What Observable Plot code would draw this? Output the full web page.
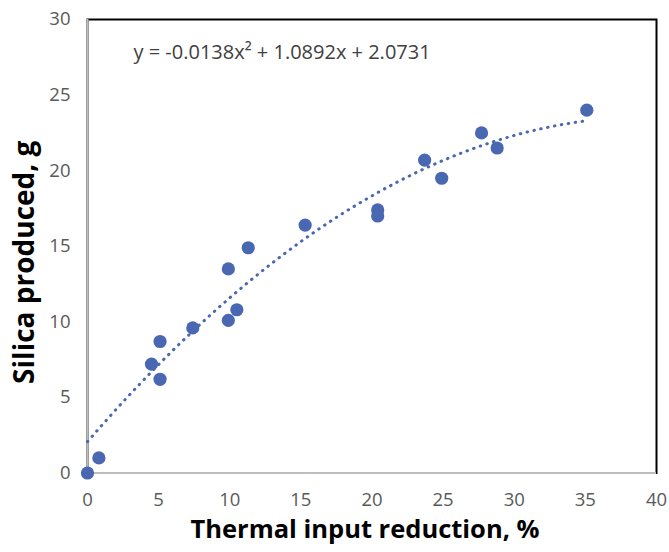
<!DOCTYPE html>
<html>
<head>
<meta charset="utf-8">
<script src="https://cdn.jsdelivr.net/npm/d3@7"></script>
<script src="https://cdn.jsdelivr.net/npm/@observablehq/plot@0.6"></script>
<style>
  html, body { margin: 0; padding: 0; background: #fff; }
  #chart svg { display: block; }
</style>
</head>
<body>
<div id="chart"></div>
<script>
// Data
const thermalReduction = [0, 0.8, 4.5, 5.1, 5.1, 7.4, 9.9, 9.9, 10.5, 11.3, 15.3, 20.4, 20.4, 23.7, 24.9, 27.7, 28.8, 35.1];
const silicaProduced   = [0, 1.0, 7.2, 8.7, 6.2, 9.6, 13.5, 10.1, 10.8, 14.9, 16.4, 17.4, 17.0, 20.7, 19.5, 22.5, 21.5, 24.0];

// Polynomial trendline coefficients shown on the chart (a x^2 + b x + c)
const trendCoeffs = [-0.0138, 1.0892, 2.0731];
const equationText = "y = -0.0138x² + 1.0892x + 2.0731";

const xTicks = [0, 5, 10, 15, 20, 25, 30, 35, 40];
const yTicks = [0, 5, 10, 15, 20, 25, 30];
const xTitle = "Thermal input reduction, %";
const yTitle = "Silica produced, g";

const points = thermalReduction.map((x, i) => ({x, y: silicaProduced[i]}));
const xMax = d3.max(thermalReduction);
const trend = d3.range(0, xMax + 1e-9, xMax / 120).map(x => ({
  x, y: trendCoeffs[0] * x * x + trendCoeffs[1] * x + trendCoeffs[2]
}));

const blue = "#4a67b1";

const chart = Plot.plot({
  width: 669,
  height: 552,
  marginLeft: 87,
  marginRight: 13,
  marginTop: 19,
  marginBottom: 79.5,
  style: {fontFamily: "'Open Sans', sans-serif", background: "#fff"},
  x: {domain: [0, 40]},
  y: {domain: [0, 30]},
  marks: [
    Plot.frame({stroke: "#000", strokeWidth: 2}),
    Plot.ruleX([0], {stroke: "#bdbdbd", strokeWidth: 2}),
    Plot.ruleY([0], {stroke: "#bdbdbd", strokeWidth: 2}),
    Plot.axisX({ticks: xTicks, tickSize: 0, tickPadding: 20, label: null, fontSize: 18.5, fill: "#595959"}),
    Plot.axisY({ticks: yTicks, tickSize: 0, tickPadding: 17, label: null, fontSize: 18.5, fill: "#595959"}),
    Plot.dot(points, {x: "x", y: "y", r: 6.6, fill: blue, stroke: "none"}),
    Plot.line(trend, {x: "x", y: "y", stroke: blue, strokeWidth: 3, strokeDasharray: "0.5 6.5", strokeLinecap: "round"}),
    Plot.text([equationText], {frameAnchor: "top-left", textAnchor: "start", lineAnchor: "bottom", dx: 46, dy: 39, fontSize: 20, fill: "#404040"}),
    Plot.text([xTitle], {frameAnchor: "bottom", textAnchor: "middle", lineAnchor: "bottom", dx: -7, dy: 64.5, fontSize: 25.5, fontWeight: "bold", fill: "#000"}),
    Plot.text([yTitle], {frameAnchor: "left", textAnchor: "middle", lineAnchor: "bottom", rotate: -90, dx: -54, dy: 16, fontSize: 28, fontWeight: "bold", fill: "#000"})
  ]
});
document.getElementById("chart").appendChild(chart);
</script>
</body>
</html>
